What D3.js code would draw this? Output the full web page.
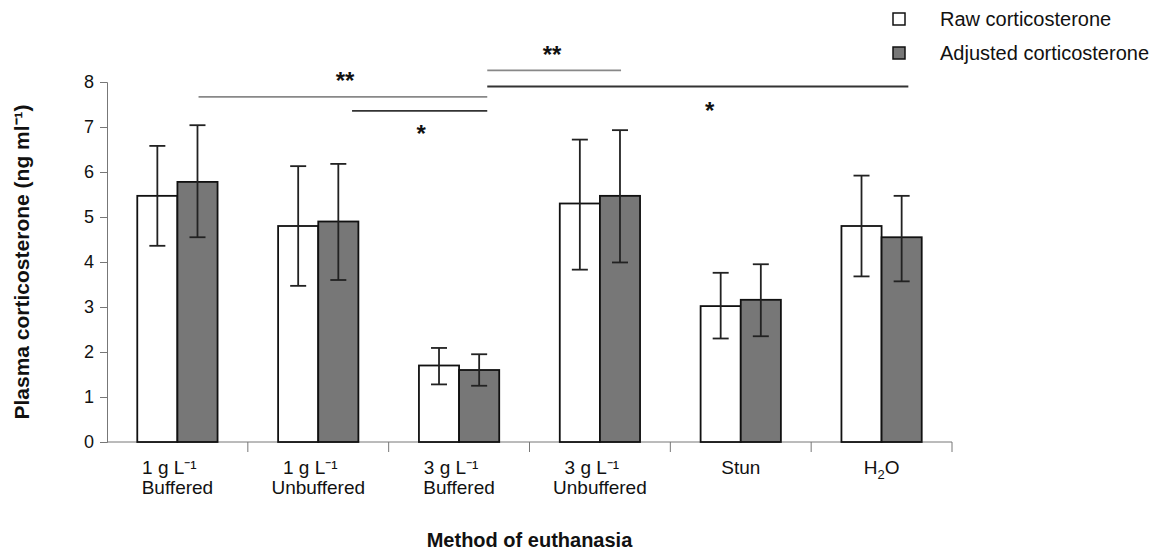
<!DOCTYPE html>
<meta charset="utf-8">
<style>
    body { margin: 0; background: #fff; }
    text { font-family: "Liberation Sans", Arial, sans-serif; fill: #111; }
    .tick text { font-size: 18px; }
</style>
<svg></svg>
<script src="https://d3js.org/d3.v7.min.js"></script>
<script>

    var groups = ["1 g L\u207B\u00B9|Buffered", "1 g L\u207B\u00B9|Unbuffered", "3 g L\u207B\u00B9|Buffered",
                  "3 g L\u207B\u00B9|Unbuffered", "Stun", "H2O"];
    var series = ["Raw corticosterone", "Adjusted corticosterone"];
    var rawMean = [5.47, 4.80, 1.70, 5.30, 3.02, 4.80];
    var rawLow = [4.36, 3.47, 1.28, 3.83, 2.30, 3.68];
    var rawHigh = [6.58, 6.13, 2.09, 6.72, 3.76, 5.92];
    var adjMean = [5.78, 4.90, 1.60, 5.47, 3.16, 4.55];
    var adjLow = [4.55, 3.60, 1.25, 3.99, 2.35, 3.57];
    var adjHigh = [7.04, 6.18, 1.95, 6.93, 3.95, 5.47];
    var yTicks = [0, 1, 2, 3, 4, 5, 6, 7, 8];

    // significance bars: x in group units, y in data units
    var sigLines = [
        { x1: 0.15, x2: 2.2, y: 7.67, color: "#888" },
        { x1: 1.24, x2: 2.2, y: 7.36, color: "#333" },
        { x1: 2.2, x2: 3.15, y: 8.26, color: "#888" },
        { x1: 2.2, x2: 5.19, y: 7.9, color: "#333" }
    ];
    var sigStars = [
        { x: 1.19, y: 7.85, t: "**" },
        { x: 1.73, y: 6.67, t: "*" },
        { x: 2.66, y: 8.42, t: "**" },
        { x: 3.78, y: 7.18, t: "*" }
    ];

    var width = 1164, height = 552;
    var margin = { left: 107, right: 212, top: 82, bottom: 110 };

    var svg = d3.select("svg").attr("width", width).attr("height", height);

    var x = d3.scaleBand().domain(groups).range([margin.left, width - margin.right])
        .paddingInner(0.43).paddingOuter(0.215);
    var xs = d3.scaleBand().domain(series).range([0, x.bandwidth()]);
    var y = d3.scaleLinear().domain([0, 8]).range([height - margin.bottom, margin.top]);
    var gx = d3.scaleLinear().domain([-0.5, groups.length - 0.5]).range([margin.left, width - margin.right]);

    var data = groups.map(function (g, i) {
        return [
            { g: g, s: series[0], v: rawMean[i], lo: rawLow[i], hi: rawHigh[i], fill: "#fff" },
            { g: g, s: series[1], v: adjMean[i], lo: adjLow[i], hi: adjHigh[i], fill: "#777" }
        ];
    });

    // axes
    var yAxis = svg.append("g").attr("transform", "translate(" + margin.left + ",0)")
        .call(d3.axisLeft(y).tickValues(yTicks).tickSize(7).tickPadding(6));
    yAxis.selectAll("path, line").attr("stroke", "#777");

    var x0 = margin.left, x1 = width - margin.right;
    svg.append("line").attr("x1", x0).attr("x2", x1).attr("y1", y(0)).attr("y2", y(0)).attr("stroke", "#777");
    svg.selectAll(".xtick").data(d3.range(1, groups.length + 1)).enter().append("line")
        .attr("x1", function (d) { return gx(d - 0.5); }).attr("x2", function (d) { return gx(d - 0.5); })
        .attr("y1", y(0)).attr("y2", y(0) + 10).attr("stroke", "#777");

    // bars
    var grp = svg.selectAll(".grp").data(data).enter().append("g")
        .attr("transform", function (d) { return "translate(" + x(d[0].g) + ",0)"; });
    grp.selectAll("rect").data(function (d) { return d; }).enter().append("rect")
        .attr("x", function (d) { return xs(d.s); })
        .attr("y", function (d) { return y(d.v); })
        .attr("width", xs.bandwidth())
        .attr("height", function (d) { return y(0) - y(d.v); })
        .attr("fill", function (d) { return d.fill; })
        .attr("stroke", "#111").attr("stroke-width", 1.8);

    // error bars
    var eb = grp.selectAll(".eb").data(function (d) { return d; }).enter().append("g")
        .attr("stroke", "#222").attr("stroke-width", 1.8);
    eb.append("line")
        .attr("x1", function (d) { return xs(d.s) + xs.bandwidth() / 2; })
        .attr("x2", function (d) { return xs(d.s) + xs.bandwidth() / 2; })
        .attr("y1", function (d) { return y(d.lo); }).attr("y2", function (d) { return y(d.hi); });
    ["lo", "hi"].forEach(function (k) {
        eb.append("line")
            .attr("x1", function (d) { return xs(d.s) + xs.bandwidth() / 2 - 8; })
            .attr("x2", function (d) { return xs(d.s) + xs.bandwidth() / 2 + 8; })
            .attr("y1", function (d) { return y(d[k]); }).attr("y2", function (d) { return y(d[k]); });
    });

    // x labels
    groups.forEach(function (g, i) {
        var cx = x(g) + x.bandwidth() / 2;
        var t = svg.append("text").attr("text-anchor", "middle").style("font-size", "19px");
        if (g === "H2O") {
            t.attr("x", cx).attr("y", y(0) + 32);
            t.append("tspan").text("H");
            t.append("tspan").attr("dy", 5).style("font-size", "13px").text("2");
            t.append("tspan").attr("dy", -5).text("O");
        } else if (g.indexOf("|") < 0) {
            t.attr("x", cx).attr("y", y(0) + 32).text(g);
        } else {
            var parts = g.split("|");
            t.attr("x", cx - 8).attr("y", y(0) + 32).text(parts[0]);
            svg.append("text").attr("text-anchor", "middle").style("font-size", "19px")
                .attr("x", cx).attr("y", y(0) + 52).text(parts[1]);
        }
    });

    // axis titles
    svg.append("text").attr("text-anchor", "middle").style("font-size", "20px").style("font-weight", "bold")
        .attr("x", (x0 + x1) / 2).attr("y", 547).text("Method of euthanasia");
    svg.append("text").attr("text-anchor", "middle").style("font-size", "21px").style("font-weight", "bold")
        .attr("transform", "translate(29," + ((y(0) + y(8)) / 2) + ") rotate(-90)")
        .text("Plasma corticosterone (ng ml\u207B\u00B9)");

    // significance
    svg.selectAll(".sig").data(sigLines).enter().append("line")
        .attr("x1", function (d) { return gx(d.x1); }).attr("x2", function (d) { return gx(d.x2); })
        .attr("y1", function (d) { return y(d.y); }).attr("y2", function (d) { return y(d.y); })
        .attr("stroke", function (d) { return d.color; }).attr("stroke-width", 1.8);
    svg.selectAll(".star").data(sigStars).enter().append("text")
        .attr("text-anchor", "middle").style("font-size", "24px").style("font-weight", "bold")
        .attr("x", function (d) { return gx(d.x); }).attr("y", function (d) { return y(d.y); })
        .text(function (d) { return d.t; });

    // legend
    var lg = svg.selectAll(".lg").data(series).enter().append("g")
        .attr("transform", function (d, i) { return "translate(893," + (13 + i * 34) + ")"; });
    lg.append("rect").attr("width", 12).attr("height", 12)
        .attr("fill", function (d, i) { return i ? "#777" : "#fff"; })
        .attr("stroke", "#111").attr("stroke-width", 1.5);
    lg.append("text").attr("x", 47).attr("y", 13).style("font-size", "20px").text(function (d) { return d; });

</script>
